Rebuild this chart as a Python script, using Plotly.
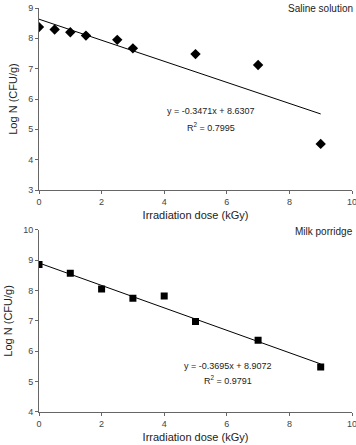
import plotly.graph_objects as go

dose_saline = [0, 0.5, 1, 1.5, 2.5, 3, 5, 7, 9]
logn_saline = [8.37, 8.29, 8.20, 8.09, 7.95, 7.67, 7.48, 7.12, 4.52]
fit_saline = (-0.3471, 8.6307)

dose_milk = [0, 1, 2, 3, 4, 5, 7, 9]
logn_milk = [8.86, 8.57, 8.05, 7.75, 7.82, 6.98, 6.36, 5.48]
fit_milk = (-0.3695, 8.9072)

line_x = [0, 9]

font_family = "Liberation Sans, Arial, sans-serif"
fig = go.Figure()

fig.add_trace(go.Scatter(x=dose_saline, y=logn_saline, mode="markers",
                         marker=dict(symbol="diamond", size=8, color="black"),
                         xaxis="x", yaxis="y", showlegend=False))
fig.add_trace(go.Scatter(x=line_x, y=[fit_saline[0] * v + fit_saline[1] for v in line_x],
                         mode="lines", line=dict(color="black", width=1),
                         xaxis="x", yaxis="y", showlegend=False))
fig.add_trace(go.Scatter(x=dose_milk, y=logn_milk, mode="markers",
                         marker=dict(symbol="square", size=7, color="black"),
                         xaxis="x2", yaxis="y2", showlegend=False))
fig.add_trace(go.Scatter(x=line_x, y=[fit_milk[0] * v + fit_milk[1] for v in line_x],
                         mode="lines", line=dict(color="black", width=1),
                         xaxis="x2", yaxis="y2", showlegend=False))

axis_common = dict(showgrid=False, zeroline=False, showline=True, linecolor="#666",
                   linewidth=1, ticks="outside", ticklen=3, tickcolor="#666",
                   ticklabeloverflow="allow", automargin=False,
                   tickfont=dict(size=9, color="#444", family=font_family))
title_font = dict(size=11, color="#222", family=font_family)

fig.update_layout(
    width=356, height=445,
    margin=dict(l=39, r=4, t=8, b=33),
    paper_bgcolor="white", plot_bgcolor="white",
    xaxis=dict(domain=[0, 1], range=[0, 10], dtick=2, anchor="y",
               title=dict(text="Irradiation dose (kGy)", font=title_font, standoff=5), **axis_common),
    yaxis=dict(domain=[0.5495, 1], range=[3, 9], dtick=1, anchor="x",
               title=dict(text="Log N (CFU/g)", font=title_font, standoff=8), **axis_common),
    xaxis2=dict(domain=[0, 1], range=[0, 10], dtick=2, anchor="y2",
                title=dict(text="Irradiation dose (kGy)", font=title_font, standoff=5), **axis_common),
    yaxis2=dict(domain=[0, 0.451], range=[4, 10], dtick=1, anchor="x2",
                title=dict(text="Log N (CFU/g)", font=title_font, standoff=8), **axis_common),
    annotations=[
        dict(text="Saline solution", xref="paper", yref="paper", x=1.01, y=1.0,
             xanchor="right", yanchor="middle", showarrow=False,
             font=dict(size=10, color="#222", family=font_family)),
        dict(text="y = -0.3471x + 8.6307", xref="x", yref="y", x=5.5, y=5.6,
             showarrow=False, font=dict(size=9, color="#222", family=font_family)),
        dict(text="R<sup>2</sup> = 0.7995", xref="x", yref="y", x=5.5, y=5.08,
             showarrow=False, font=dict(size=9, color="#222", family=font_family)),
        dict(text="Milk porridge", xref="paper", yref="paper", x=1.01, y=0.446,
             xanchor="right", yanchor="middle", showarrow=False,
             font=dict(size=10, color="#222", family=font_family)),
        dict(text="y = -0.3695x + 8.9072", xref="x2", yref="y2", x=6.04, y=5.5,
             showarrow=False, font=dict(size=9, color="#222", family=font_family)),
        dict(text="R<sup>2</sup> = 0.9791", xref="x2", yref="y2", x=6.04, y=5.06,
             showarrow=False, font=dict(size=9, color="#222", family=font_family)),
    ],
)

fig.write_html("out.html")
